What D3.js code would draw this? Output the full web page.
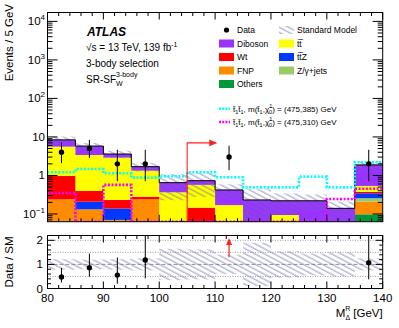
<!DOCTYPE html>
<html>
<head>
<meta charset="utf-8">
<script src="https://cdn.jsdelivr.net/npm/d3@7"></script>
<style>
  body { margin: 0; background: #fff; }
  svg { display: block; font-family: "Liberation Sans", Arial, Helvetica, sans-serif; }
</style>
</head>
<body>
<div id="chart"></div>
<script>
// bins of M_Delta^R (GeV), 5 GeV wide
const binLow = [80, 85, 90, 95, 100, 105, 110, 115, 120, 125, 130, 135];
const binWidth = 5;

// SM backgrounds, stacked bottom -> top
const others  = [0.066, 0.066, 0.066, 0.066, 0, 0, 0, 0, 0, 0, 0, 0.098];
const fnp     = [0.174, 0.066, 0.004, 0.174, 0, 0, 0, 0, 0, 0, 0, 0.111];
const zjets   = [0, 0, 0, 0, 0, 0, 0, 0, 0, 0, 0, 0.047];
const ttz     = [0, 0.077, 0.069, 0, 0, 0, 0, 0, 0, 0, 0, 0.089];
const wt      = [0.73, 0.187, 0.092, 0.04, 0, 0.146, 0, 0, 0, 0, 0, 0.03];
const ttbar   = [4.63, 3.0, 2.67, 1.05, 0.366, 0.424, 0.17, 0.05, 0.094, 0, 0, 0.16];
const diboson = [2.8, 2.4, 0.7, 0.36, 0.284, 0.16, 0.25, 0.181, 0.126, 0.22, 0.14, 1.34];
// relative SM uncertainty (hatched band)
const smUnc   = [0.22, 0.2, 0.22, 0.25, 0.65, 0.62, 0.4, 0.9, 0.55, 0.45, 0.5, 0.25];

// data with asymmetric error bars
const dataVal = [4, 5, 2, 2, 0, 0, 3, 0, 0, 0, 0, 2];
const dataLo  = [2.09, 2.84, 0.71, 0.71, 0, 0, 1.37, 0, 0, 0, 0, 0.71];
const dataHi  = [7.16, 8.38, 4.64, 4.64, 0, 0, 5.92, 0, 0, 0, 0, 4.64];

// signal benchmarks
const sig385 = [1.21, 1.47, 1.14, 0.88, 0.95, 1.21, 0.9, 0.49, 0.49, 0.93, 0.49, 2.2];
const sig310 = [0.35, 0.01, 0.57, 0.01, 0.01, 0.01, 0.01, 0.01, 0.01, 0.01, 0.245, 0.45];

// signal region cut arrow
const cutX = 105, cutArrowEnd = 110.4, cutY = 7;

const procs = [
  { key: "others",  label: "Others",    color: "#00993a", vals: others },
  { key: "fnp",     label: "FNP",       color: "#ff8c00", vals: fnp },
  { key: "zjets",   label: "Z/\u03b3+jets", color: "#99cc66", vals: zjets },
  { key: "ttz",     label: "tt\u0305Z",  color: "#0038ff", vals: ttz },
  { key: "wt",      label: "Wt",        color: "#ff0000", vals: wt },
  { key: "ttbar",   label: "tt\u0305",   color: "#ffff00", vals: ttbar },
  { key: "diboson", label: "Diboson",   color: "#9933ff", vals: diboson },
];

const W = 399, H = 328;
const fr = { l: 47.5, r: 382.7, t: 12.5, b: 221.7 };
const rr = { t: 235.5, b: 288.5 };

const x = d3.scaleLinear([80, 140], [fr.l, fr.r]);
const y = d3.scaleLog([0.063, 17000], [fr.b, fr.t]).clamp(true);
const yr = d3.scaleLinear([0, 2.2], [rr.b, rr.t]).clamp(true);

const svg = d3.select("#chart").append("svg")
  .attr("width", W).attr("height", H);

const defs = svg.append("defs");
const hatch = defs.append("pattern")
  .attr("id", "hatch").attr("patternUnits", "userSpaceOnUse")
  .attr("width", 4.5).attr("height", 4.5)
  .attr("patternTransform", "rotate(28)");
hatch.append("line").attr("x1", 0).attr("y1", 1).attr("x2", 4.5).attr("y2", 1)
  .attr("stroke", "#6a6ab0").attr("stroke-width", 0.7);

defs.append("clipPath").attr("id", "clipMain").append("rect")
  .attr("x", fr.l).attr("y", fr.t).attr("width", fr.r - fr.l).attr("height", fr.b - fr.t);
defs.append("clipPath").attr("id", "clipRatio").append("rect")
  .attr("x", fr.l).attr("y", rr.t).attr("width", fr.r - fr.l).attr("height", rr.b - rr.t);

const rows = binLow.map((lo, i) => {
  const r = { lo };
  procs.forEach(p => r[p.key] = p.vals[i]);
  return r;
});
const stacked = d3.stack().keys(procs.map(p => p.key))(rows);
const total = rows.map((r, i) => d3.sum(procs, p => p.vals[i]));

const main = svg.append("g").attr("clip-path", "url(#clipMain)");

// stacked fills
stacked.forEach((layer, k) => {
  main.append("g").attr("fill", procs[k].color)
    .selectAll("rect").data(layer.filter(d => d[1] - d[0] > 0)).join("rect")
    .attr("x", d => x(d.data.lo))
    .attr("width", d => x(d.data.lo + binWidth) - x(d.data.lo) + 0.3)
    .attr("y", d => y(d[1]))
    .attr("height", d => Math.max(0, y(Math.max(d[0], 1e-4)) - y(d[1])));
});

// SM uncertainty hatch
main.append("g").selectAll("rect").data(binLow).join("rect")
  .attr("x", (d) => x(d))
  .attr("width", d => x(d + binWidth) - x(d))
  .attr("y", (d, i) => y(total[i] * (1 + smUnc[i])))
  .attr("height", (d, i) => y(Math.max(total[i] * (1 - smUnc[i]), 1e-4)) - y(total[i] * (1 + smUnc[i])))
  .attr("fill", "url(#hatch)");

function stepPts(vals) {
  const pts = binLow.map((lo, i) => [lo, vals[i]]);
  pts.push([140, vals[vals.length - 1]]);
  return pts;
}
const stepLine = d3.line().curve(d3.curveStepAfter)
  .x(d => x(d[0])).y(d => y(Math.max(d[1], 1e-4)));

// SM total outline
main.append("path").attr("d", stepLine(stepPts(total)))
  .attr("fill", "none").attr("stroke", "#000").attr("stroke-width", 1);

// signals
main.append("path").attr("d", stepLine(stepPts(sig385)))
  .attr("fill", "none").attr("stroke", "#00ffff").attr("stroke-width", 2.6)
  .attr("stroke-dasharray", "2,1.6");
main.append("path").attr("d", stepLine(stepPts(sig310)))
  .attr("fill", "none").attr("stroke", "#ff00ff").attr("stroke-width", 2.6)
  .attr("stroke-dasharray", "2,1.6");

// cut arrow
main.append("path")
  .attr("d", `M${x(cutX)},${fr.b} L${x(cutX)},${y(cutY)} L${x(cutArrowEnd) - 6},${y(cutY)}`)
  .attr("fill", "none").attr("stroke", "#ff2020").attr("stroke-width", 1.1);
main.append("path")
  .attr("d", `M${x(cutArrowEnd)},${y(cutY)} l-8,-3.4 l0,6.8 z`)
  .attr("fill", "#ff2020");

// data
const dataIdx = dataVal.map((v, i) => i).filter(i => dataVal[i] > 0);
const dg = svg.append("g").attr("clip-path", "url(#clipMain)");
dg.selectAll("line").data(dataIdx).join("line")
  .attr("x1", i => x(binLow[i] + binWidth / 2)).attr("x2", i => x(binLow[i] + binWidth / 2))
  .attr("y1", i => y(dataLo[i])).attr("y2", i => y(dataHi[i]))
  .attr("stroke", "#000").attr("stroke-width", 1);
dg.selectAll("circle").data(dataIdx).join("circle")
  .attr("cx", i => x(binLow[i] + binWidth / 2)).attr("cy", i => y(dataVal[i]))
  .attr("r", 2.7).attr("fill", "#000");

// ---- ratio panel ----
const rg = svg.append("g").attr("clip-path", "url(#clipRatio)");
rg.append("g").selectAll("rect").data(binLow).join("rect")
  .attr("x", d => x(d)).attr("width", d => x(d + binWidth) - x(d))
  .attr("y", (d, i) => yr(1 + smUnc[i]))
  .attr("height", (d, i) => yr(1 - smUnc[i]) - yr(1 + smUnc[i]))
  .attr("fill", "url(#hatch)");
[0.5, 1.5, 2].forEach(v => rg.append("line")
  .attr("x1", fr.l).attr("x2", fr.r).attr("y1", yr(v)).attr("y2", yr(v))
  .attr("stroke", "#888").attr("stroke-width", 0.8).attr("stroke-dasharray", "1,1.5"));
rg.append("line").attr("x1", fr.l).attr("x2", fr.r).attr("y1", yr(1)).attr("y2", yr(1))
  .attr("stroke", "#888").attr("stroke-width", 0.9).attr("stroke-dasharray", "4,2");

const ratioIdx = dataIdx.filter(i => dataVal[i] / total[i] <= 2.2);
rg.selectAll("line.err").data(ratioIdx).join("line").attr("class", "err")
  .attr("x1", i => x(binLow[i] + binWidth / 2)).attr("x2", i => x(binLow[i] + binWidth / 2))
  .attr("y1", i => yr(dataLo[i] / total[i])).attr("y2", i => yr(dataHi[i] / total[i]))
  .attr("stroke", "#000").attr("stroke-width", 1);
rg.selectAll("circle").data(ratioIdx).join("circle")
  .attr("cx", i => x(binLow[i] + binWidth / 2)).attr("cy", i => yr(dataVal[i] / total[i]))
  .attr("r", 2.7).attr("fill", "#000");
// off-scale arrows
dataIdx.filter(i => dataVal[i] / total[i] > 2.2).forEach(i => {
  const cx = x(binLow[i] + binWidth / 2);
  rg.append("line").attr("x1", cx).attr("x2", cx).attr("y1", yr(1.3)).attr("y2", yr(1.85))
    .attr("stroke", "#ff2020").attr("stroke-width", 1.2);
  rg.append("path").attr("d", `M${cx},${yr(2.1)} l-3,7 l6,0 z`).attr("fill", "#ff2020");
});

// ---- axes / frames ----
const axes = svg.append("g").attr("fill", "none").attr("stroke", "#000").attr("stroke-width", 1);
axes.append("rect").attr("x", fr.l).attr("y", fr.t).attr("width", fr.r - fr.l).attr("height", fr.b - fr.t);
axes.append("rect").attr("x", fr.l).attr("y", rr.t).attr("width", fr.r - fr.l).attr("height", rr.b - rr.t);

const xMajor = [80, 90, 100, 110, 120, 130, 140];
const xMinor = d3.range(82, 140, 2).filter(v => v % 10 !== 0);
function xTicks(y0, dir, len, vals) {
  axes.selectAll(null).data(vals).join("line")
    .attr("x1", d => x(d)).attr("x2", d => x(d))
    .attr("y1", y0).attr("y2", y0 + dir * len);
}
xTicks(fr.b, -1, 7, xMajor); xTicks(fr.b, -1, 3.5, xMinor);
xTicks(fr.t, 1, 7, xMajor); xTicks(fr.t, 1, 3.5, xMinor);
xTicks(rr.b, -1, 7, xMajor); xTicks(rr.b, -1, 3.5, xMinor);
xTicks(rr.t, 1, 7, xMajor); xTicks(rr.t, 1, 3.5, xMinor);

const yMajor = [0.1, 1, 10, 100, 1000, 10000];
const yMinor = [];
[-2, -1, 0, 1, 2, 3, 4].forEach(e => d3.range(2, 10).forEach(k => {
  const v = k * Math.pow(10, e);
  if (v > 0.063 && v < 17000) yMinor.push(v);
}));
function yTicks(vals, len, scale) {
  axes.selectAll(null).data(vals).join("line")
    .attr("x1", fr.l).attr("x2", fr.l + len).attr("y1", d => scale(d)).attr("y2", d => scale(d));
  axes.selectAll(null).data(vals).join("line")
    .attr("x1", fr.r).attr("x2", fr.r - len).attr("y1", d => scale(d)).attr("y2", d => scale(d));
}
yTicks(yMajor, 10, y); yTicks(yMinor, 5, y);
yTicks([0, 1, 2], 7, yr);
yTicks(d3.range(0.2, 2.2, 0.2).filter(v => Math.abs(v - 1) > 0.01 && Math.abs(v - 2) > 0.01), 3.5, yr);

// tick labels
const lab = svg.append("g").attr("font-size", 11.5).attr("fill", "#000");
const yLabels = [["10", "\u22121"], ["1", null], ["10", null], ["10", "2"], ["10", "3"], ["10", "4"]];
yMajor.forEach((v, i) => {
  const t = lab.append("text").attr("x", 45).attr("y", y(v) + 4).attr("text-anchor", "end");
  t.append("tspan").text(yLabels[i][0]);
  if (yLabels[i][1]) t.append("tspan").attr("font-size", 8).attr("dy", -5).text(yLabels[i][1]);
});
[0, 1, 2].forEach(v => lab.append("text").attr("x", 43).attr("y", yr(v) + 4)
  .attr("text-anchor", "end").text(v));
xMajor.forEach(v => lab.append("text").attr("x", x(v)).attr("y", 302)
  .attr("text-anchor", "middle").text(v));

// axis titles
lab.append("text").attr("transform", `translate(13,4) rotate(-90)`)
  .attr("text-anchor", "end").text("Events / 5 GeV");
lab.append("text").attr("transform", `translate(13,${(rr.t + rr.b) / 2}) rotate(-90)`)
  .attr("text-anchor", "middle").text("Data / SM");
const xt = lab.append("text").attr("x", fr.r).attr("y", 317).attr("text-anchor", "end");
xt.append("tspan").text("M");
xt.append("tspan").attr("font-size", 7).attr("dy", -6).text("R");
xt.append("tspan").attr("font-size", 7).attr("dx", -5).attr("dy", 9).text("\u0394");
xt.append("tspan").attr("dy", -3).text(" [GeV]");

// ATLAS labels
const ann = svg.append("g").attr("fill", "#000");
ann.append("text").attr("x", 87).attr("y", 36).attr("font-size", 12)
  .attr("font-weight", "bold").attr("font-style", "italic").text("ATLAS");
const ecm = ann.append("text").attr("x", 86).attr("y", 51).attr("font-size", 10);
ecm.append("tspan").text("\u221as = 13 TeV, 139 fb");
ecm.append("tspan").attr("font-size", 7).attr("dy", -4).text("-1");
ann.append("text").attr("x", 86).attr("y", 67).attr("font-size", 10).text("3-body selection");
const sr = ann.append("text").attr("x", 86).attr("y", 83).attr("font-size", 10);
sr.append("tspan").text("SR-SF");
sr.append("tspan").attr("font-size", 7).attr("dy", 3).text("W");
sr.append("tspan").attr("font-size", 7).attr("dx", -6.6).attr("dy", -9).text("3-body");

// legend
const leg = svg.append("g").attr("font-size", 8.5).attr("fill", "#000");
leg.append("circle").attr("cx", 226.5).attr("cy", 30).attr("r", 2.6);
leg.append("text").attr("x", 237).attr("y", 33).text("Data");
leg.append("rect").attr("x", 279).attr("y", 26).attr("width", 15).attr("height", 8).attr("fill", "url(#hatch)");
leg.append("text").attr("x", 297).attr("y", 33).text("Standard Model");

const legItems = [
  ["diboson", 219, 43.5], ["ttbar", 279, 43.5],
  ["wt", 219, 57], ["ttz", 279, 57],
  ["fnp", 219, 70.5], ["zjets", 279, 70.5],
  ["others", 219, 84],
];
legItems.forEach(([k, lx, ly]) => {
  const p = procs.find(q => q.key === k);
  leg.append("rect").attr("x", lx).attr("y", ly - 4).attr("width", 15).attr("height", 8).attr("fill", p.color);
  leg.append("text").attr("x", lx + 18).attr("y", ly + 3).text(p.label);
});

function sigLabel(ly, color, mass) {
  leg.append("line").attr("x1", 219).attr("x2", 230).attr("y1", ly).attr("y2", ly)
    .attr("stroke", color).attr("stroke-width", 2.6).attr("stroke-dasharray", "2,1.2");
  const t = leg.append("text").attr("x", 233).attr("y", ly + 3).attr("font-size", 8);
  t.append("tspan").text("t\u0303");
  t.append("tspan").attr("font-size", 5.5).attr("dy", 2).text("1");
  t.append("tspan").attr("dy", -2).text("t\u0303");
  t.append("tspan").attr("font-size", 5.5).attr("dy", 2).text("1");
  t.append("tspan").attr("dy", -2).text(", m(t\u0303");
  t.append("tspan").attr("font-size", 5.5).attr("dy", 2).text("1");
  t.append("tspan").attr("dy", -2).text(",\u03c7\u0303");
  t.append("tspan").attr("font-size", 5.5).attr("dy", 2).text("0");
  t.append("tspan").attr("font-size", 5.5).attr("dx", -3).attr("dy", -6).text("1");
  t.append("tspan").attr("dy", 4).text(`) = ${mass} GeV`);
}
sigLabel(108.7, "#00ffff", "(475,385)");
sigLabel(122, "#ff00ff", "(475,310)");
</script>
</body>
</html>
